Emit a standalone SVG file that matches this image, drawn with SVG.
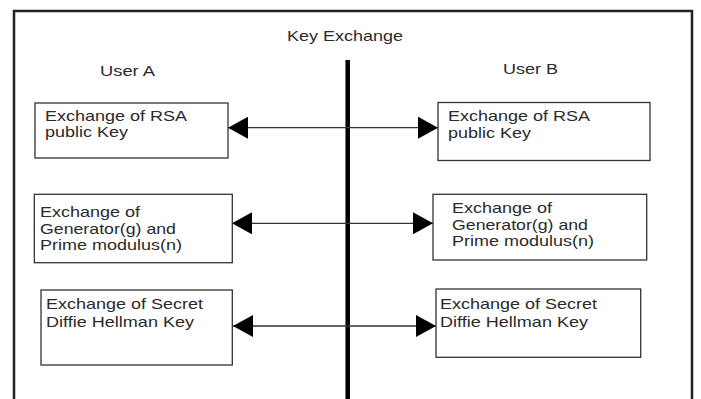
<svg xmlns="http://www.w3.org/2000/svg" width="701" height="399" viewBox="0 0 701 399">
<style>
  .t { font-family: "Liberation Sans", Arial, sans-serif; font-size: 15px; fill: #2a2a2a; }
  .box { fill: #fff; stroke: #333; stroke-width: 1.3; }
  .conn { stroke: #333; stroke-width: 1.3; fill: none; marker-start: url(#ah); marker-end: url(#ah); }
</style>
<defs>
  <marker id="ah" viewBox="0 0 20 22" markerUnits="userSpaceOnUse" markerWidth="20" markerHeight="22" refX="20" refY="11" orient="auto-start-reverse">
    <path d="M0,0 L20,11 L0,22 Z" fill="#000"/>
  </marker>
</defs>
<rect width="701" height="399" fill="#fff"/>
<g id="frame">
  <path d="M14,399 L14,11 L692,11 L692,399" fill="none" stroke="#222" stroke-width="2.5"/>
  <line x1="347.7" y1="60" x2="347.7" y2="399" stroke="#000" stroke-width="4.5"/>
</g>
<g id="titles">
  <text class="t" x="287" y="41" textLength="116" lengthAdjust="spacingAndGlyphs">Key Exchange</text>
  <text class="t" x="100" y="76" textLength="55" lengthAdjust="spacingAndGlyphs">User A</text>
  <text class="t" x="503" y="74" textLength="55" lengthAdjust="spacingAndGlyphs">User B</text>
</g>
<g id="connectors">
  <line class="conn" x1="228" y1="127.7" x2="438" y2="127.7"/>
  <line class="conn" x1="232" y1="223.3" x2="433" y2="223.3"/>
  <line class="conn" x1="233" y1="326" x2="436" y2="326"/>
</g>
<g id="a1">
  <rect class="box" x="35" y="103" width="193" height="55"/>
  <text class="t" x="45" y="120.5" textLength="142" lengthAdjust="spacingAndGlyphs">Exchange of RSA</text>
  <text class="t" x="45" y="137" textLength="83" lengthAdjust="spacingAndGlyphs">public Key</text>
</g>
<g id="b1">
  <rect class="box" x="438" y="102.5" width="212" height="58"/>
  <text class="t" x="448" y="121" textLength="142" lengthAdjust="spacingAndGlyphs">Exchange of RSA</text>
  <text class="t" x="448" y="137.5" textLength="83" lengthAdjust="spacingAndGlyphs">public Key</text>
</g>
<g id="a2">
  <rect class="box" x="34.3" y="194.3" width="198" height="68.4"/>
  <text class="t" x="40" y="217" textLength="100" lengthAdjust="spacingAndGlyphs">Exchange of</text>
  <text class="t" x="40" y="233.5" textLength="136" lengthAdjust="spacingAndGlyphs">Generator(g) and</text>
  <text class="t" x="40" y="250" textLength="142" lengthAdjust="spacingAndGlyphs">Prime modulus(n)</text>
</g>
<g id="b2">
  <rect class="box" x="433" y="194.3" width="213.7" height="65.7"/>
  <text class="t" x="452" y="213" textLength="100" lengthAdjust="spacingAndGlyphs">Exchange of</text>
  <text class="t" x="452" y="229.5" textLength="136" lengthAdjust="spacingAndGlyphs">Generator(g) and</text>
  <text class="t" x="452" y="246" textLength="142" lengthAdjust="spacingAndGlyphs">Prime modulus(n)</text>
</g>
<g id="a3">
  <rect class="box" x="41" y="290" width="191.3" height="75"/>
  <text class="t" x="46" y="309" textLength="157" lengthAdjust="spacingAndGlyphs">Exchange of Secret</text>
  <text class="t" x="46" y="326.5" textLength="148" lengthAdjust="spacingAndGlyphs">Diffie Hellman Key</text>
</g>
<g id="b3">
  <rect class="box" x="436" y="289" width="204.7" height="68.3"/>
  <text class="t" x="440" y="309" textLength="157" lengthAdjust="spacingAndGlyphs">Exchange of Secret</text>
  <text class="t" x="440" y="326.5" textLength="148" lengthAdjust="spacingAndGlyphs">Diffie Hellman Key</text>
</g>
</svg>
